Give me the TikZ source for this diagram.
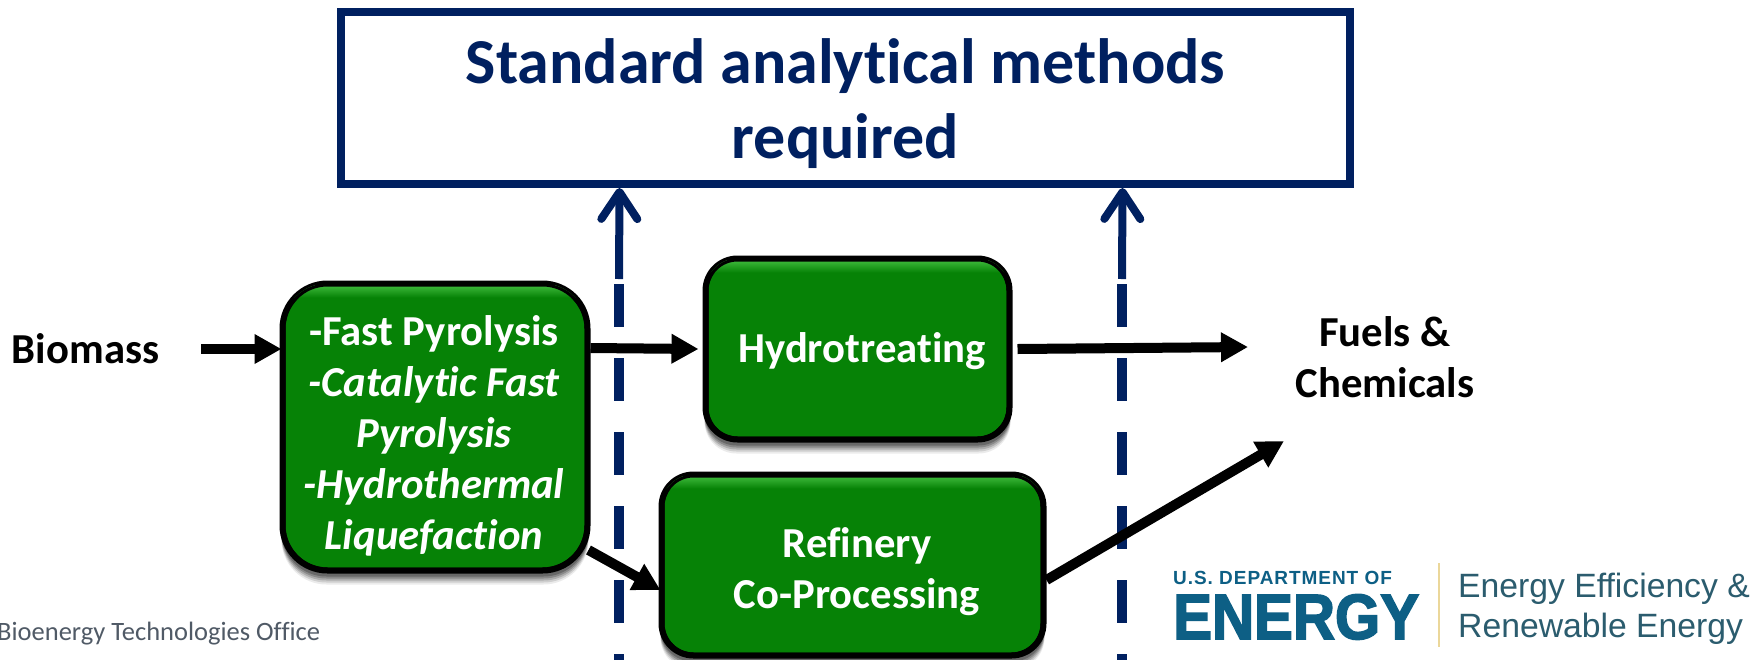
\documentclass[tikz,border=0pt]{standalone}
\usepackage{fontspec}
\setmainfont[Ligatures=NoCommon]{Carlito}
\newfontfamily\lgreg{Liberation Sans}
\newfontfamily\lgbold[LetterSpace=5]{Liberation Sans Bold}
\newfontfamily\lgheavy[FakeBold=2.5,FakeStretch=0.91]{Liberation Sans Bold}
\usetikzlibrary{arrows.meta,calc,positioning}
\definecolor{navy}{HTML}{002060}
\definecolor{gbox}{HTML}{068206}
\definecolor{ghi}{HTML}{3DB83A}
\definecolor{officegray}{HTML}{505A66}
\definecolor{logoblue}{HTML}{0D5F85}
\definecolor{logoteal}{HTML}{2B5C6E}
\definecolor{logogold}{HTML}{EBD79A}
\tikzset{
  x=1pt,y=-1pt,
  every node/.style={inner sep=0pt,align=center},
  topbox/.style={draw=navy,line width=8pt,fill=white,minimum width=1009pt,minimum height=172pt},
  toptext/.style={font=\fontsize{64}{75}\selectfont\bfseries,text=navy},
  greenbox/.style={draw=black,line width=6pt,fill=gbox},
  greentext/.style={text=white,font=\fontsize{42.7}{51}\selectfont\bfseries},
  lbl/.style={font=\fontsize{42.7}{51}\selectfont\bfseries,text=black},
  flow/.style={line width=10pt,-{Triangle[length=27pt,width=28pt]},black},
  stem/.style={line width=8pt,navy},
  barb/.style={-{Straight Barb[length=27pt,width=36pt,line width=8pt,round]}},
  dashline/.style={line width=10pt,navy,dash pattern=on 43pt off 31pt},
}
% soft shadow below a box
\newcommand{\boxdeco}[5]{% cx cy w h r
  \foreach \g/\o in {11/.08,9/.12,7/.16,5/.2,3/.24}{
    \fill[black,opacity=\o,rounded corners=#5pt]
      ({#1-#3/2-1},{#2-#4/2+3}) rectangle ({#1+#3/2+1},{#2+#4/2+3+\g});
  }
}
% highlight band along the top of a box
\newcommand{\boxhi}[5]{%
  \begin{scope}
    \clip[rounded corners=#5pt] ({#1-#3/2},{#2-#4/2}) rectangle ({#1+#3/2},{#2+#4/2});
    \shade[top color=ghi,bottom color=gbox] ({#1-#3/2},{#2-#4/2+2}) rectangle ({#1+#3/2},{#2-#4/2+14});
    \draw[draw=black,line width=6pt,rounded corners=#5pt] ({#1-#3/2},{#2-#4/2}) rectangle ({#1+#3/2},{#2+#4/2});
  \end{scope}
}
\begin{document}
\begin{tikzpicture}
\useasboundingbox (0,0) rectangle (1763,659);
\clip (0,0) rectangle (1763,659);
\fill[white] (0,0) rectangle (1763,659);

% dashed verticals
\coordinate (jL) at (619,284);
\coordinate (bL) at (619,670);
\coordinate (jR) at (1122,284);
\coordinate (bR) at (1122,670);
\draw[dashline] (jL) -- (bL);
\draw[dashline] (jR) -- (bR);

% boxes
\boxdeco{435}{427}{305}{287}{45}
\node[greenbox,rounded corners=45pt,minimum width=305pt,minimum height=287pt] (proc) at (435,427) {};
\boxhi{435}{427}{305}{287}{45}
\boxdeco{857.5}{349}{304}{181}{32}
\node[greenbox,rounded corners=32pt,minimum width=304pt,minimum height=181pt] (hydro) at (857.5,349) {};
\boxhi{857.5}{349}{304}{181}{32}
\boxdeco{852.5}{565}{382}{181}{32}
\node[greenbox,rounded corners=32pt,minimum width=382pt,minimum height=181pt] (refi) at (852.5,565) {};
\boxhi{852.5}{565}{382}{181}{32}

\node[greentext] (proctxt) at (434,436)
  {-Fast Pyrolysis\\ \itshape -Catalytic Fast\\ \itshape Pyrolysis\\ \itshape -Hydrothermal\\ \itshape Liquefaction};
\node[greentext] (hydrotxt) at (862,351) {Hydrotreating};
\node[greentext] (refitxt) at (857,572) {Refinery\\Co-Processing};

% top box
\node[topbox] (top) at (845.5,98) {};
\node[toptext] (toptxt) at (845.5,104) {Standard analytical methods\\required};

% labels
\node[lbl] (bio) at (85.5,349) {Biomass};
\node[lbl] (fuel) at (1385,357) {Fuels \&\\Chemicals};
\node[font=\fontsize{26.5}{30}\selectfont,text=officegray,anchor=west] (office) at (-3,634) {Bioenergy Technologies Office};

% process arrows
\coordinate (ffuel) at (1248,347);
\coordinate (ffuel2) at (1284,441);
\draw[flow] ([xshift=42pt]bio.east) -- ([yshift=78pt,xshift=2pt]proc.west);
\draw[flow] ([yshift=79pt]proc.east) -- ([xshift=-4pt]hydro.west);
\draw[flow] ([xshift=5pt]hydro.east) -- (ffuel);
\draw[flow] ([yshift=-123pt,xshift=-2pt]proc.east) -- ([yshift=-25pt,xshift=2pt]refi.west);
\draw[flow] ([yshift=-15pt]refi.east) -- (ffuel2);

% up arrows
\draw[stem,barb] (jL)++(0,-5) -- ([xshift=-226pt]top.south);
\draw[stem,barb] (jR)++(0,-5) -- ([xshift=277pt]top.south);

% logo
\node[font=\lgbold\fontsize{19}{19}\selectfont,text=logoblue,anchor=west] (doe) at (1173,578) {U.S. DEPARTMENT OF};
\node[font=\lgheavy\fontsize{64}{64}\selectfont,text=logoblue,anchor=base west] (energy) at (1173,639) {ENERGY};
\coordinate (divt) at (1439,563);
\coordinate (divb) at (1439,647);
\draw[logogold,line width=2pt] (divt) -- (divb);
\node[font=\lgreg\fontsize{33.7}{34}\selectfont,text=logoteal,anchor=base west] (ee1) at (1458,597) {Energy Efficiency \&};
\node[font=\lgreg\fontsize{33.7}{34}\selectfont,text=logoteal,anchor=base west] (ee2) at (1458,637) {Renewable Energy};
\end{tikzpicture}
\end{document}
